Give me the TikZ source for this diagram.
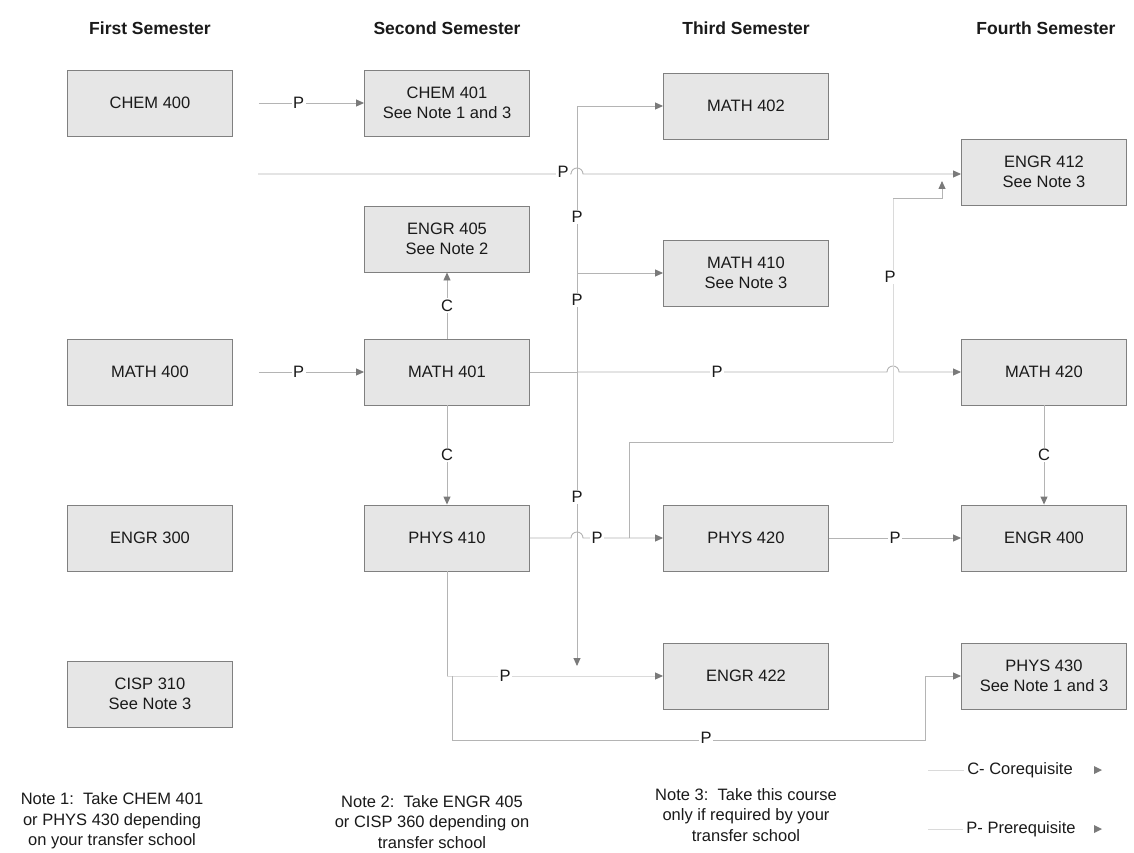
\documentclass[tikz,border=0pt]{standalone}
\usepackage{fontspec}
\setmainfont{Liberation Sans}
\usetikzlibrary{arrows.meta}
\definecolor{boxborder}{HTML}{808080}
\definecolor{boxfill}{HTML}{E6E6E6}
\definecolor{linecol}{HTML}{B4B4B4}
\definecolor{faintcol}{HTML}{DADADA}
\definecolor{arrcol}{HTML}{7A7A7A}
\definecolor{textcol}{HTML}{1A1A1A}
\begin{document}
\begin{tikzpicture}[x=1pt,y=-1pt,
  course/.style={draw=boxborder, fill=boxfill, line width=0.9pt, minimum width=165pt, minimum height=66pt,
    font=\fontsize{16.5}{20}\selectfont, align=center, inner sep=0pt, text=textcol},
  link/.style={draw=linecol, line width=0.9pt},
  faint/.style={draw=faintcol, line width=0.9pt},
  arr/.style={link, -{Triangle[length=8pt,width=7pt,color=arrcol]}},
  farr/.style={faint, -{Triangle[length=8pt,width=7pt,color=arrcol]}},
  lab/.style={fill=white, inner sep=1.5pt, font=\fontsize{16.5}{20}\selectfont, text=textcol},
  head/.style={font=\bfseries\fontsize{17.5}{21}\selectfont, text=textcol},
  note/.style={align=center, font=\fontsize{16.5}{20.5}\selectfont, text=textcol}
]
\fill[white] (0,0) rectangle (1134,853);
\useasboundingbox (0,0) rectangle (1134,853);

% headings
\node[head] (h1) at (150,28) {First Semester};
\node[head] (h2) at (447,28) {Second Semester};
\node[head] (h3) at (746,28) {Third Semester};
\node[head] (h4) at (1046,28) {Fourth Semester};

% courses
\node[course] (chem400) at (150,103) {CHEM 400};
\node[course] (chem401) at (447,103) {CHEM 401\\See Note 1 and 3};
\node[course] (math402) at (746,106) {MATH 402};
\node[course] (engr412) at (1044,172) {ENGR 412\\See Note 3};
\node[course] (engr405) at (447,239) {ENGR 405\\See Note 2};
\node[course] (math410) at (746,273) {MATH 410\\See Note 3};
\node[course] (math400) at (150,372) {MATH 400};
\node[course] (math401) at (447,372) {MATH 401};
\node[course] (math420) at (1044,372) {MATH 420};
\node[course] (engr300) at (150,538) {ENGR 300};
\node[course] (phys410) at (447,538) {PHYS 410};
\node[course] (phys420) at (746,538) {PHYS 420};
\node[course] (engr400) at (1044,538) {ENGR 400};
\node[course] (cisp310) at (150,694) {CISP 310\\See Note 3};
\node[course] (engr422) at (746,676) {ENGR 422};
\node[course] (phys430) at (1044,676) {PHYS 430\\See Note 1 and 3};

% coordinates
\coordinate (c4src) at (258,174);
\coordinate (trunk) at (577,372);
\coordinate (tbot) at (577,666);
\coordinate (a1) at (629,538);
\coordinate (a2) at (629,442);
\coordinate (a3) at (893,442);
\coordinate (a4) at (893,198);
\coordinate (a5) at (942,198);
\coordinate (a6) at (942,181);
\coordinate (b1) at (447,676);
\coordinate (b2) at (452,676);
\coordinate (b3) at (452,740);
\coordinate (b4) at (925,740);
\coordinate (b5) at (925,676);

% first semester links
\draw[arr, shorten <=26pt] (chem400) -- (chem401) node[lab, pos=0.5] {P};
\draw[arr, shorten <=26pt] (math400) -- (math401) node[lab, pos=0.5] {P};

% long CHEM 400 -> ENGR 412
\draw[arr] (c4src) -- (571,174) arc[start angle=180, end angle=360, radius=6] -- (c4src -| engr412.west);
\node[lab] (lp1) at (563,172) {P};

% trunk from MATH 401
\draw[link] (math401.east) -- (trunk);
\draw[arr] (trunk) |- (math402.west);
\draw[arr] (trunk) |- (math410.west);
\draw[arr] (trunk) -- (tbot);
\node[lab] (lp2) at (577,217) {P};
\node[lab] (lp3) at (577,300) {P};
\node[lab] (lp4) at (577,497) {P};

% MATH 401 -> MATH 420
\draw[arr] (trunk) -- (887,372) arc[start angle=180, end angle=360, radius=6] -- (math420.west);
\node[lab] (lp5) at (717,372) {P};

% corequisites
\draw[arr] (math401) -- (engr405) node[lab, midway] {C};
\draw[arr] (math401) -- (phys410) node[lab, midway] {C};
\draw[arr] (math420) -- (engr400) node[lab, midway] {C};

% PHYS 410 -> PHYS 420 -> ENGR 400
\draw[arr] (phys410.east) -- (571,538) arc[start angle=180, end angle=360, radius=6] -- (phys420.west);
\node[lab] (lp6) at (597,538) {P};
\draw[arr] (phys420) -- (engr400) node[lab, midway] {P};

% PHYS 420 branch up to ENGR 412
\draw[link] (a1) -- (a2) -- (a3);
\draw[faint] (a3) -- (a4);
\draw[arr] (a4) -- (a5) -- (a6);
\node[lab] (lp7) at (890,277) {P};

% PHYS 410 -> ENGR 422 and PHYS 430
\draw[link] (phys410.south) -- (b1);
\draw[farr] (b1) -- (engr422.west);
\node[lab] (lp8) at (505,676) {P};
\draw[link] (b2) -- (b3) -- (b4) -- (b5);
\draw[arr] (b5) -- (phys430.west);
\node[lab] (lp9) at (706,738) {P};

% legend
\node[note] (legc) at (1020,770) {C- Corequisite};
\node[note] (legp) at (1021,829) {P- Prerequisite};
\coordinate (lc0) at (928,770);
\coordinate (lp0) at (928,829);
\draw[faint] (lc0) -- (legc.west);
\draw[faint] (lp0) -- (legp.west);
\fill[arrcol] (1094,766) -- (1102,770) -- (1094,774) -- cycle;
\fill[arrcol] (1094,825) -- (1102,829) -- (1094,833) -- cycle;

% notes
\node[note] (n1) at (112,821) {Note 1:~~Take CHEM 401\\or PHYS 430 depending\\on your transfer school};
\node[note] (n2) at (432,822) {Note 2:~~Take ENGR 405\\or CISP 360 depending on\\transfer school};
\node[note] (n3) at (746,815) {Note 3:~~Take this course\\only if required by your\\transfer school};
\end{tikzpicture}
\end{document}
